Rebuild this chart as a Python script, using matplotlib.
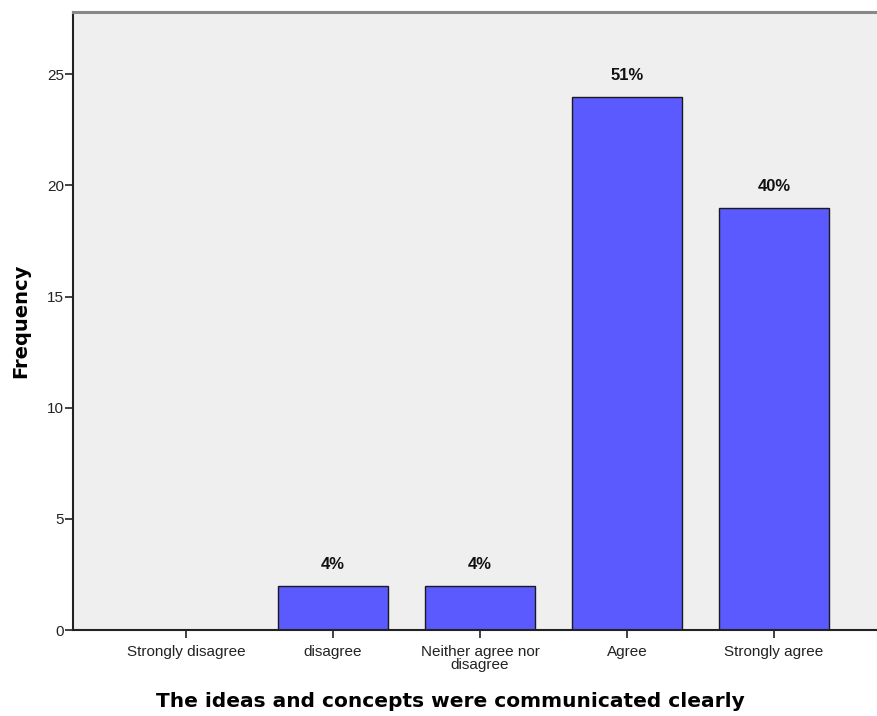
import matplotlib
matplotlib.use("Agg")
import matplotlib.pyplot as plt

# data
categories = ["Strongly disagree", "disagree", "Neither agree nor\ndisagree", "Agree", "Strongly agree"]
frequency = [0, 2, 2, 24, 19]
pct_labels = ["", "4%", "4%", "51%", "40%"]
y_ticks = [0, 5, 10, 15, 20, 25]

plt.rcParams['font.family'] = ['Liberation Sans', 'DejaVu Sans']

fig = plt.figure(figsize=(8.77, 7.16), dpi=100)
ax = fig.add_axes([0.0838, 0.1201, 0.9162, 0.8631])
ax.set_facecolor("#efefef")

x = list(range(len(categories)))
ax.bar(x, frequency, width=0.75, color="#5a5aff", edgecolor="#1a1a1a", linewidth=1.0, zorder=2)

# percent labels above bars
for xi, v, lab in zip(x, frequency, pct_labels):
    if lab:
        ax.annotate(lab, (xi, v), xytext=(0, 10), textcoords="offset points",
                    ha="center", va="bottom", fontsize=12, fontweight="bold",
                    color="#111111")

ax.set_xlim(-0.765, 4.70)
ax.set_ylim(0, 27.8)
ax.set_xticks(x)
ax.set_xticklabels(categories, fontsize=11, linespacing=0.85, color="#222222")
ax.set_yticks(y_ticks)
ax.tick_params(axis="y", labelsize=11, length=6, width=1.2, color="#222222",
               labelcolor="#222222", pad=1)
ax.tick_params(axis="x", length=6, width=1.2, color="#222222", pad=5)

for side in ["left", "bottom"]:
    ax.spines[side].set_color("#222222")
    ax.spines[side].set_linewidth(1.5)
ax.spines["top"].set_color("#888888")
ax.spines["top"].set_linewidth(2.2)
ax.spines["right"].set_visible(False)

ax.set_ylabel("Frequency", fontsize=14, fontweight="bold", family="DejaVu Sans", labelpad=12)
ax.set_xlabel("The ideas and concepts were communicated clearly", fontsize=14.5,
              fontweight="bold", family="DejaVu Sans")
ax.xaxis.set_label_coords(0.4686, -0.100)

fig.savefig("out.png", dpi=100)
